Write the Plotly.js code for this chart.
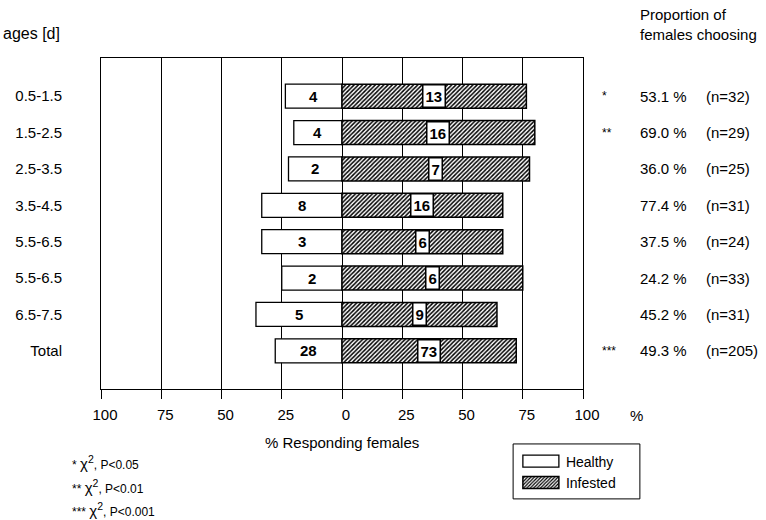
<!DOCTYPE html>
<html><head><meta charset="utf-8">
<script src="https://cdn.plot.ly/plotly-3.0.1.min.js"></script>
<style>body{margin:0;background:#fff}#chart{width:766px;height:520px}</style>
</head><body><div id="chart"></div>
<script>
// Data
var ages = ["0.5-1.5","1.5-2.5","2.5-3.5","3.5-4.5","5.5-6.5","5.5-6.5","6.5-7.5","Total"];
var healthyPct = [23.5, 20.0, 22.2, 33.3, 33.3, 25.0, 35.7, 27.7];
var infestedPct = [76.5, 80.0, 77.8, 66.7, 66.7, 75.0, 64.3, 72.3];
var healthyN = [4, 4, 2, 8, 3, 2, 5, 28];
var infestedN = [13, 16, 7, 16, 6, 6, 9, 73];
var signif = ["*","**","","","","","","***"];
var proportion = ["53.1 %","69.0 %","36.0 %","77.4 %","37.5 %","24.2 %","45.2 %","49.3 %"];
var sampleN = [32, 29, 25, 31, 24, 33, 31, 205];
var tickVals = [-100,-75,-50,-25,0,25,50,75,100];
var tickText = ["100","75","50","25","0","25","50","75","100"];
var footStars = ["*","**","***"];
var footP = ["P&lt;0.05","P&lt;0.01","P&lt;0.001"];

var rows = ages.map(function(_, i){ return i; });
var F = "Liberation Sans, Arial, sans-serif";

var traces = [
  {type:"bar", orientation:"h", name:"Healthy", y:rows, x:healthyPct.map(function(v){return -v;}),
   width:0.66, marker:{color:"#ffffff", line:{color:"#000", width:1.3}}, hoverinfo:"skip"},
  {type:"bar", orientation:"h", name:"Infested", y:rows, x:infestedPct,
   width:0.66, marker:{color:"#ffffff", line:{color:"#000", width:1.5},
     pattern:{shape:"/", fgcolor:"#000", bgcolor:"#fff", size:3, solidity:0.5}}, hoverinfo:"skip"}
];

var ann = [];
rows.forEach(function(i){
  ann.push({x:-healthyPct[i]/2, y:i, xref:"x", yref:"y", text:"<b>" + healthyN[i] + "</b>", showarrow:false,
    font:{family:F, size:15, color:"#000"}});
  ann.push({x:infestedPct[i]/2, y:i, xref:"x", yref:"y", text:"<b>" + infestedN[i] + "</b>", showarrow:false,
    bgcolor:"#fff", bordercolor:"#000", borderwidth:1.5, borderpad:2,
    font:{family:F, size:15, color:"#000"}});
  if (signif[i]) ann.push({x:1.035, y:i, xref:"paper", yref:"y", xanchor:"left", text:signif[i], showarrow:false,
    font:{family:F, size:12, color:"#000"}});
  ann.push({x:1.1145, y:i, xref:"paper", yref:"y", xanchor:"left",
    text:proportion[i], showarrow:false, font:{family:F, size:15, color:"#000"}});
  ann.push({x:1.251, y:i, xref:"paper", yref:"y", xanchor:"left",
    text:"(n=" + sampleN[i] + ")", showarrow:false, font:{family:F, size:15, color:"#000"}});
});
ann.push({x:1.1145, y:1.163, xref:"paper", yref:"paper", xanchor:"left", yanchor:"top", align:"left",
  text:"Proportion of<br>females choosing", showarrow:false, font:{family:F, size:15, color:"#000"}});
ann.push({x:-0.207, y:1.075, xref:"paper", yref:"paper", xanchor:"left", yanchor:"middle",
  text:"ages [d]", showarrow:false, font:{family:F, size:16, color:"#000"}});
ann.push({x:1.11, y:-0.079, xref:"paper", yref:"paper", xanchor:"center", yanchor:"middle",
  text:"%", showarrow:false, font:{family:F, size:15, color:"#000"}});
ann.push({x:0.5, y:-0.163, xref:"paper", yref:"paper", xanchor:"center", yanchor:"middle",
  text:"% Responding females", showarrow:false, font:{family:F, size:15, color:"#000"}});
footStars.forEach(function(s, k){
  ann.push({x:-0.064, y:-0.222 - k*0.0715, xref:"paper", yref:"paper", xanchor:"left", yanchor:"middle",
    text:s + " <span style='font-size:15px'>χ<sup>2</sup></span>, " + footP[k], showarrow:false,
    font:{family:F, size:12, color:"#000"}});
});

var layout = {
  width:766, height:520, margin:{l:101, r:183, t:58, b:131},
  paper_bgcolor:"#fff", plot_bgcolor:"#fff", barmode:"relative", bargap:0,
  font:{family:F, size:15, color:"#000"},
  xaxis:{range:[-100,100], tickvals:tickVals, ticktext:tickText, showgrid:true, gridcolor:"#000", gridwidth:1,
    zeroline:true, zerolinecolor:"#000", zerolinewidth:1, showline:true, linecolor:"#000", linewidth:1, mirror:true,
    ticks:"outside", ticklen:9, tickcolor:"#000", tickfont:{family:F, size:15}, fixedrange:true,
    ticklabelshift:4, ticklabelstandoff:3},
  yaxis:{range:[8.05,-1.05], tickvals:rows, ticktext:ages, showgrid:false, zeroline:false,
    showline:true, linecolor:"#000", linewidth:1, mirror:true, ticks:"", ticklabelstandoff:35,
    tickfont:{family:F, size:15}, fixedrange:true},
  showlegend:true,
  legend:{x:0.840, y:-0.171, xanchor:"left", yanchor:"top", borderwidth:0,
    bgcolor:"rgba(0,0,0,0)", font:{family:F, size:14}, traceorder:"normal", tracegroupgap:0, itemwidth:50},
  shapes:[{type:"rect", xref:"paper", yref:"paper", x0:0.855, x1:1.118, y0:-0.332, y1:-0.166,
    line:{color:"#000", width:1}, fillcolor:"rgba(0,0,0,0)"}],
  annotations:ann
};
Plotly.newPlot("chart", traces, layout, {displayModeBar:false, staticPlot:true}).then(function(gd){
  // widen the legend swatches into rectangles like the original
  var pts = gd.querySelectorAll(".legend .legendpoints path");
  pts.forEach(function(p){ p.setAttribute("d", "M23,6H-13V-6H23Z"); });
});
</script></body></html>
